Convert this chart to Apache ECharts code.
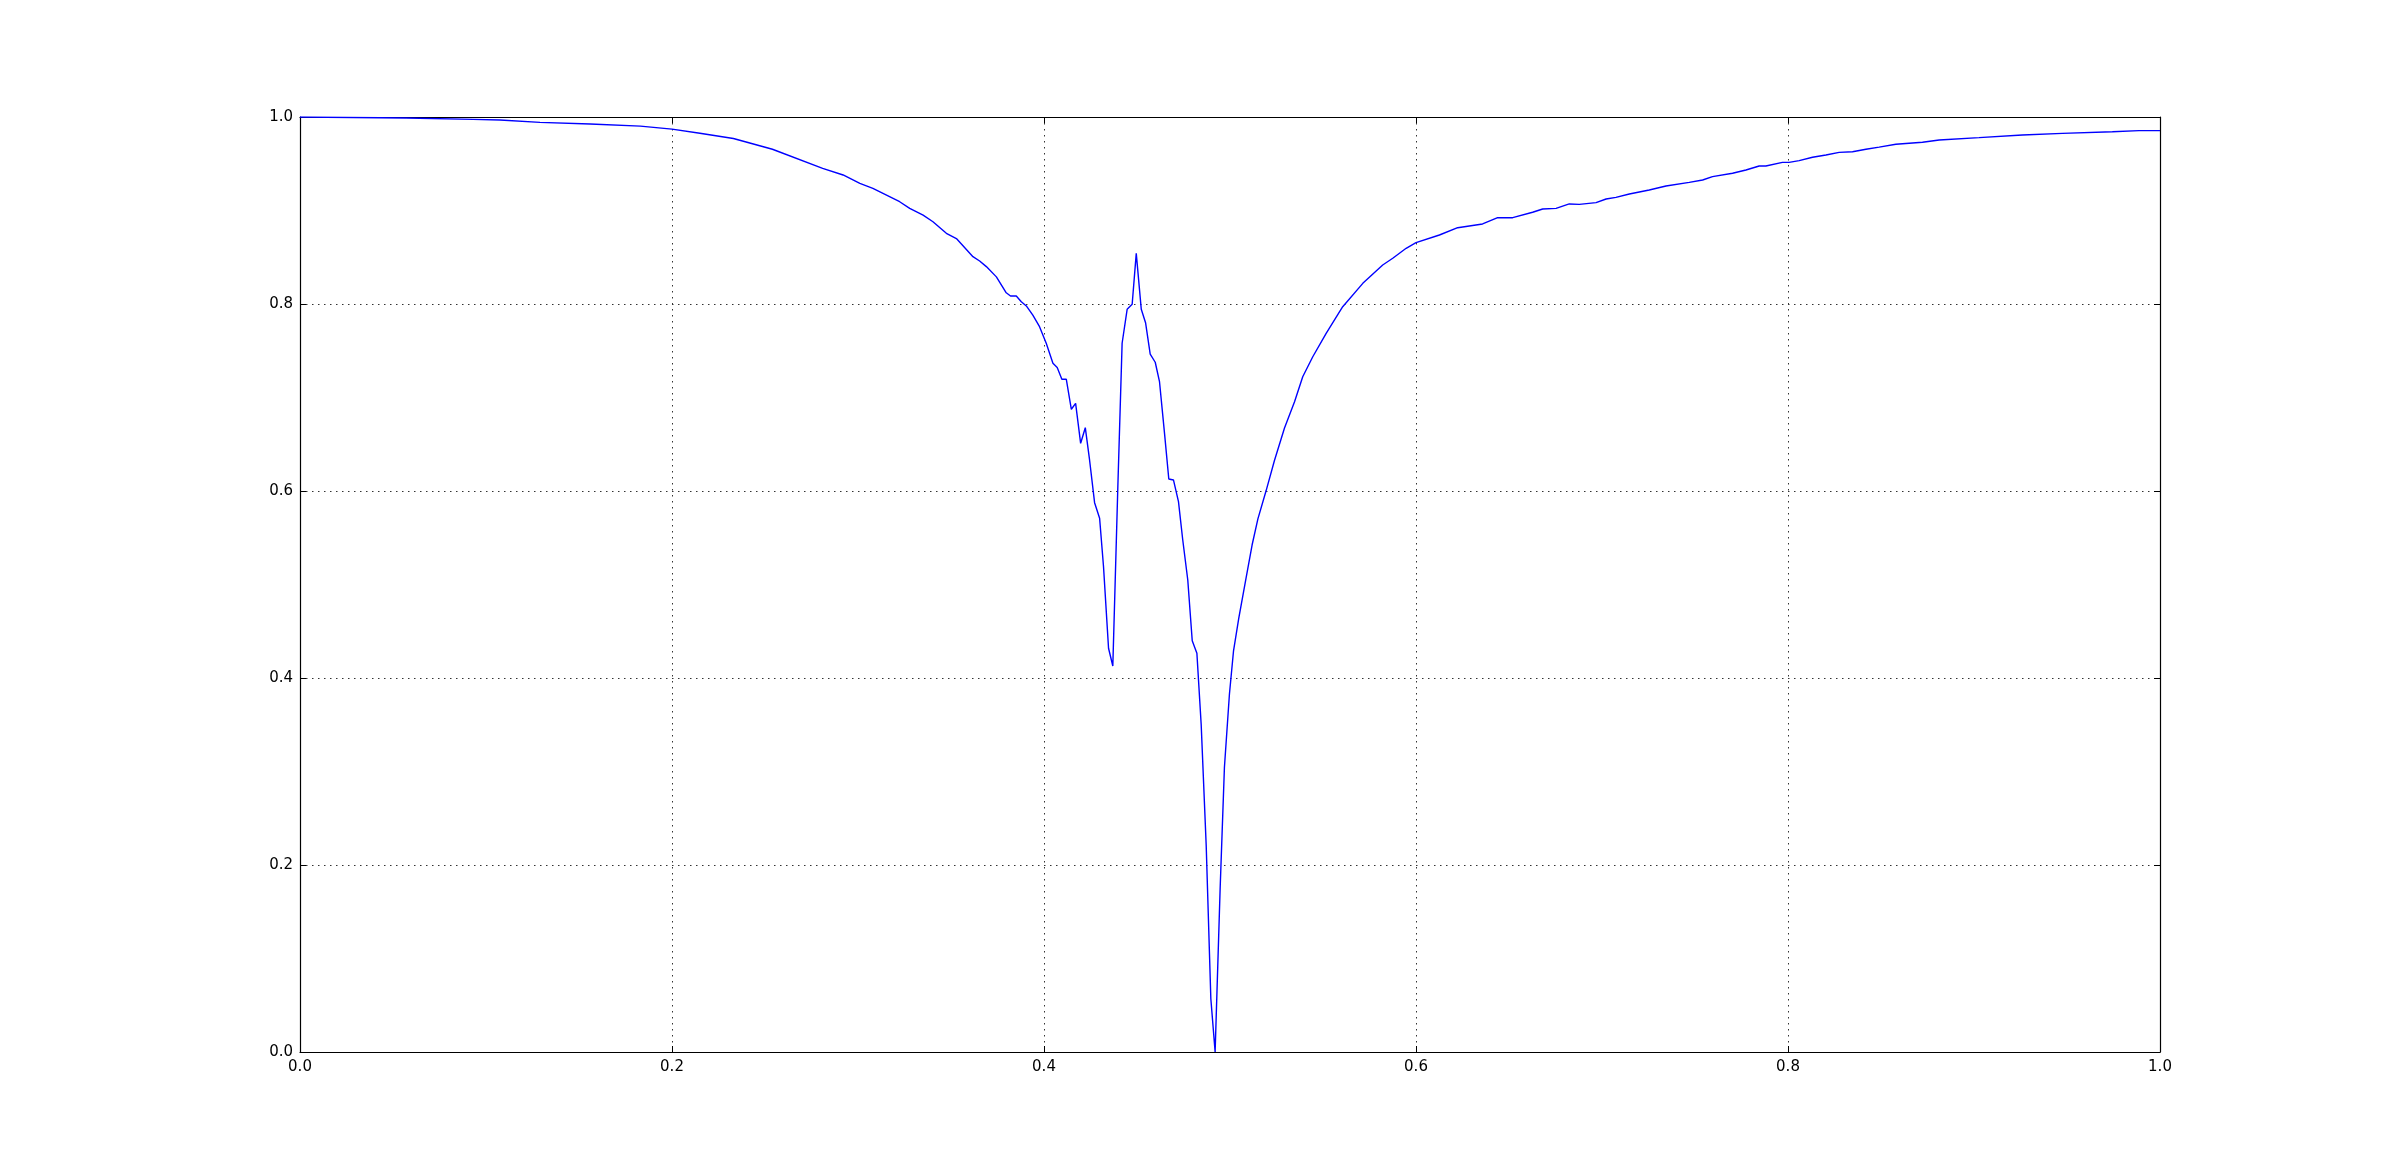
<!DOCTYPE html>
<html>
<head>
<meta charset="utf-8">
<script src="https://cdn.jsdelivr.net/npm/echarts@6/dist/echarts.min.js"></script>
<style>
  html, body { margin: 0; padding: 0; background: #fff; }
  #chart { width: 2400px; height: 1170px; }
</style>
</head>
<body>
<div id="chart"></div>
<script>
// values
const xs = [
  0.000, 0.057, 0.093, 0.1075, 0.129, 0.156, 0.183, 0.200, 0.215, 0.233,
  0.254, 0.281, 0.292, 0.301, 0.308, 0.3224, 0.3278, 0.335, 0.3403, 0.3475,
  0.3529, 0.3618, 0.3654, 0.369, 0.3744, 0.3797, 0.382, 0.3851, 0.3878, 0.3905,
  0.394, 0.3976, 0.4012, 0.4048, 0.4071, 0.4096, 0.412, 0.4147, 0.417, 0.4197,
  0.4222, 0.4245, 0.4272, 0.4299, 0.432, 0.4347, 0.437, 0.4397, 0.442, 0.4447,
  0.4474, 0.4496, 0.4523, 0.4546, 0.4571, 0.4598, 0.4621, 0.4648, 0.4671, 0.4696,
  0.4723, 0.4746, 0.4773, 0.4797, 0.4822, 0.4845, 0.4872, 0.4897, 0.492, 0.4947,
  0.497, 0.4997, 0.5019, 0.5047, 0.5087, 0.5119, 0.515, 0.5194, 0.5239, 0.5293,
  0.5347, 0.5391, 0.5445, 0.5517, 0.5606, 0.5714, 0.5821, 0.5875, 0.5947, 0.600,
  0.6126, 0.6224, 0.6358, 0.6439, 0.652, 0.6627, 0.6681, 0.6753, 0.6824, 0.6878,
  0.6968, 0.7022, 0.7075, 0.7147, 0.7254, 0.7344, 0.7469, 0.7541, 0.7594, 0.7702,
  0.7774, 0.7845, 0.7881, 0.797, 0.8006, 0.806, 0.8132, 0.8204, 0.8275, 0.8347,
  0.8419, 0.849, 0.858, 0.8723, 0.8813, 0.9027, 0.926, 0.9475, 0.9744, 0.9887,
  1.000
];
const ys = [
  1.000, 0.999, 0.9975, 0.9968, 0.9943, 0.9925, 0.9902, 0.987, 0.9826, 0.977,
  0.9655, 0.945, 0.938, 0.929, 0.9237, 0.9094, 0.9023, 0.895, 0.888, 0.8756,
  0.870, 0.8506, 0.846, 0.840, 0.829, 0.812, 0.8086, 0.8086, 0.8025, 0.7979,
  0.788, 0.7757, 0.758, 0.7366, 0.732, 0.7195, 0.7195, 0.6874, 0.6938, 0.651,
  0.6677, 0.6332, 0.5875, 0.5708, 0.519, 0.4318, 0.4128, 0.6046, 0.758, 0.7943,
  0.7997, 0.8542, 0.7943, 0.780, 0.7465, 0.7377, 0.7169, 0.6617, 0.6128, 0.6118,
  0.5886, 0.5476, 0.5048, 0.4399, 0.4264, 0.3505, 0.2211, 0.0569, 0.000, 0.1748,
  0.3043, 0.3829, 0.4291, 0.4638, 0.5077, 0.5425, 0.5702, 0.6002, 0.6326, 0.6673,
  0.6955, 0.7222, 0.7436, 0.7686, 0.7971, 0.8221, 0.8417, 0.8489, 0.8596, 0.8656,
  0.8738, 0.8816, 0.8856, 0.8923, 0.8923, 0.8981, 0.9016, 0.9023, 0.907, 0.9066,
  0.9084, 0.9123, 0.9141, 0.9176, 0.9219, 0.9262, 0.9301, 0.9326, 0.9362, 0.9398,
  0.9433, 0.9476, 0.9476, 0.9515, 0.9515, 0.9533, 0.9569, 0.9594, 0.9622, 0.9629,
  0.9655, 0.9678, 0.9708, 0.973, 0.9754, 0.9779, 0.9807, 0.9825, 0.9843, 0.9854,
  0.9854
];
const tickStep = 0.2;

const labelStyle = {
  color: '#000',
  fontSize: 15,
  fontFamily: 'DejaVu Sans',
  formatter: (v) => v.toFixed(1)
};
const gridLine = {
  show: true,
  lineStyle: { color: '#333', width: 1, type: [1.5, 4.5] }
};
const frameLine = { show: true, onZero: false, lineStyle: { color: '#000', width: 1.2 } };
const innerTick = { show: true, inside: true, length: 6, lineStyle: { color: '#000' } };

const chart = echarts.init(document.getElementById('chart'), null, { renderer: 'canvas' });

chart.setOption({
  animation: false,
  backgroundColor: '#fff',
  grid: { left: 300, top: 117, width: 1860, height: 935 },
  xAxis: [{
    type: 'value', min: 0, max: 1, interval: tickStep, position: 'bottom',
    axisLine: frameLine, axisTick: innerTick, splitLine: gridLine,
    axisLabel: Object.assign({ margin: 8, showMinLabel: true, showMaxLabel: true }, labelStyle)
  }, {
    type: 'value', min: 0, max: 1, interval: tickStep, position: 'top',
    axisLine: frameLine, axisTick: innerTick, splitLine: { show: false },
    axisLabel: { show: false }
  }],
  yAxis: [{
    type: 'value', min: 0, max: 1, interval: tickStep, position: 'left',
    axisLine: frameLine, axisTick: innerTick, splitLine: gridLine,
    axisLabel: Object.assign({ margin: 7, showMinLabel: true, showMaxLabel: true }, labelStyle)
  }, {
    type: 'value', min: 0, max: 1, interval: tickStep, position: 'right',
    axisLine: frameLine, axisTick: innerTick, splitLine: { show: false },
    axisLabel: { show: false }
  }],
  series: [{
    type: 'line',
    xAxisIndex: 0,
    yAxisIndex: 0,
    data: xs.map((x, i) => [x, ys[i]]),
    symbol: 'none',
    lineStyle: { color: '#0000ff', width: 1.4 },
    z: 5
  }]
});
</script>
</body>
</html>
